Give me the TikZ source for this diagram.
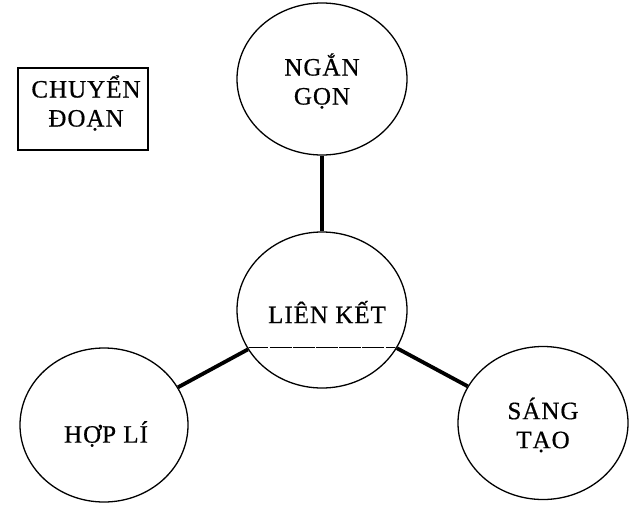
\documentclass[tikz,border=0pt]{standalone}
\usepackage{fontspec}
\setmainfont{Liberation Serif}[LetterSpace=4,FakeBold=0.6]
\usetikzlibrary{shapes.geometric}
\begin{document}
\begin{tikzpicture}[x=1pt,y=-1pt,
  bubble/.style={ellipse,draw,line width=1.3pt,inner sep=0pt},
  lbl/.style={font=\fontsize{25}{29}\selectfont,align=center,inner sep=0pt},
  conn/.style={line width=3.8pt}]
\useasboundingbox (0,0) rectangle (634,509);
\node[draw,line width=1.3pt,minimum width=130pt,minimum height=82pt,inner sep=0pt] (box) at (83,109) {};
\node[lbl] (boxt) at (86,103) {CHUYỂN\\ĐOẠN};
\node[bubble,minimum width=170pt,minimum height=152pt] (ng) at (322,79) {};
\node[bubble,minimum width=170pt,minimum height=156pt] (lk) at (322,310) {};
\node[bubble,minimum width=168pt,minimum height=154pt] (hl) at (104,425) {};
\node[bubble,minimum width=170pt,minimum height=153pt] (st) at (543,423) {};
\node[lbl] (ngt) at (322,81) {NGẮN\\GỌN};
\node[lbl] (lkt) at (327,312) {LIÊN KẾT};
\node[lbl] (hlt) at (106,434) {HỢP LÍ};
\node[lbl] (stt) at (543,425) {SÁNG\\TẠO};
\draw[conn] (ng.south) -- (lk.north);
\draw[conn] (hl.27) -- (lk.208);
\draw[conn] (st.154) -- (lk.333);
\begin{scope}
\clip (lk.center) ellipse (84pt and 77pt);
\draw[line width=1pt,dash pattern=on 22pt off 1.2pt] (200,347) -- (450,347);
\end{scope}
\end{tikzpicture}
\end{document}
